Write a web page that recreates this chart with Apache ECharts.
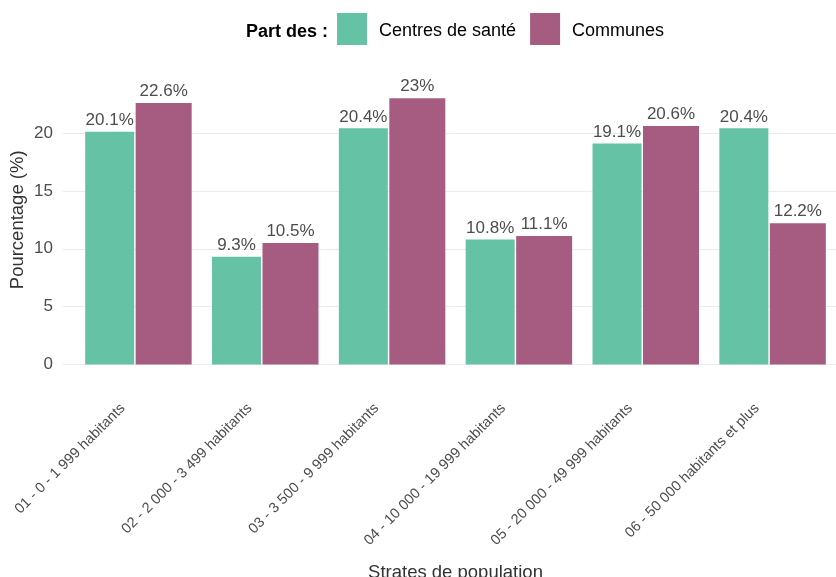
<!DOCTYPE html>
<html>
<head>
<meta charset="utf-8">
<script src="https://cdn.jsdelivr.net/npm/echarts@6/dist/echarts.min.js"></script>
<style>
  html, body { margin: 0; padding: 0; background: #fff; }
  #chart { width: 836px; height: 577px; }
</style>
</head>
<body>
<div id="chart"></div>
<script>
// strates de population
const strates = [
  '01 - 0 - 1 999 habitants',
  '02 - 2 000 - 3 499 habitants',
  '03 - 3 500 - 9 999 habitants',
  '04 - 10 000 - 19 999 habitants',
  '05 - 20 000 - 49 999 habitants',
  '06 - 50 000 habitants et plus'
];
const centresSante = [20.1, 9.3, 20.4, 10.8, 19.1, 20.4];
const communes = [22.6, 10.5, 23, 11.1, 20.6, 12.2];
const yTicks = [0, 5, 10, 15, 20];

const font = 'Liberation Sans, Arial, sans-serif';
const chart = echarts.init(document.getElementById('chart'));

const labelStyle = {
  show: true,
  position: 'top',
  distance: 3,
  formatter: '{c}%',
  color: '#4d4d4d',
  fontSize: 17,
  fontFamily: font
};

const option = {
  animation: false,
  title: {
    text: 'Part des :',
    left: 246,
    top: 23,
    padding: 0,
    textStyle: { fontFamily: font, fontSize: 18, fontWeight: 'bold', color: '#000' }
  },
  legend: {
    left: 337,
    top: 13,
    padding: 0,
    itemWidth: 30,
    itemHeight: 32,
    itemGap: 14,
    icon: 'rect',
    // texte un peu plus bas que le centre des carrés
    formatter: function (name) { return '{t|' + name + '}'; },
    textStyle: {
      fontFamily: font, fontSize: 18, color: '#000', padding: [0, 0, 0, 7],
      rich: { t: { fontFamily: font, fontSize: 18, color: '#000', padding: [5, 0, 0, 0] } }
    },
    data: ['Centres de santé', 'Communes']
  },
  grid: [
    // grille de fond (lignes horizontales)
    { left: 63, width: 773, top: 133, height: 231.5, outerBoundsMode: 'none' },
    // barres
    { left: 75, width: 761, top: 75.1, height: 289.4, outerBoundsMode: 'none' }
  ],
  xAxis: [
    { gridIndex: 0, type: 'category', data: strates, show: false },
    {
      gridIndex: 1,
      type: 'category',
      data: strates,
      axisLine: { show: false },
      axisTick: { show: false },
      axisLabel: {
        interval: 0,
        rotate: 45,
        margin: 26,
        padding: [0, 22, 0, 0],
        color: '#4d4d4d',
        fontSize: 14.5,
        fontFamily: font
      },
      name: 'Strates de population',
      nameLocation: 'middle',
      nameGap: 199,
      nameTextStyle: { color: '#333', fontSize: 18.5, fontFamily: font }
    }
  ],
  yAxis: [
    {
      gridIndex: 0,
      type: 'value',
      min: yTicks[0],
      max: yTicks[yTicks.length - 1],
      interval: 5,
      axisLine: { show: false },
      axisTick: { show: false },
      axisLabel: { color: '#4d4d4d', fontSize: 17, fontFamily: font, margin: 10 },
      splitLine: { lineStyle: { color: '#ebebeb', width: 1 } }
    },
    {
      gridIndex: 1,
      type: 'value',
      min: 0,
      max: 25,
      axisLine: { show: false },
      axisTick: { show: false },
      axisLabel: { show: false },
      splitLine: { show: false },
      name: 'Pourcentage (%)',
      nameLocation: 'middle',
      nameGap: 48,
      nameTextStyle: { color: '#333', fontSize: 18.5, fontFamily: font }
    }
  ],
  series: [
    {
      name: 'Centres de santé',
      type: 'bar',
      xAxisIndex: 1,
      yAxisIndex: 1,
      data: centresSante,
      barWidth: 49,
      barGap: '3%',
      itemStyle: { color: '#66c2a5' },
      label: labelStyle
    },
    {
      name: 'Communes',
      type: 'bar',
      xAxisIndex: 1,
      yAxisIndex: 1,
      data: communes,
      barWidth: 56,
      barGap: '3%',
      itemStyle: { color: '#a65c80' },
      label: labelStyle
    }
  ]
};

chart.setOption(option);
</script>
</body>
</html>
